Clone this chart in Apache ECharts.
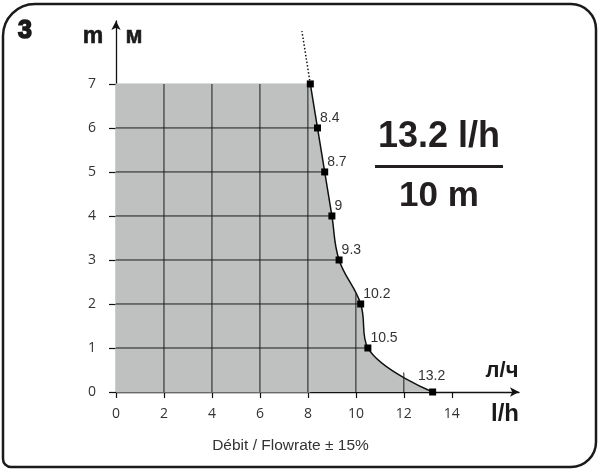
<!DOCTYPE html>
<html>
<head>
<meta charset="utf-8">
<script src="https://cdn.jsdelivr.net/npm/echarts@6/dist/echarts.min.js"></script>
<style>html,body{margin:0;padding:0;background:#fff;}#c{width:598px;height:469px;}</style>
</head>
<body>
<div id="c"></div>
<script>
// Data
const heads = [0, 1, 2, 3, 4, 5, 6, 7];                 // m
const flows = [13.2, 10.5, 10.2, 9.3, 9, 8.7, 8.4, 8.1]; // l/h
const extension = [[8.1, 7], [7.75, 8.2]];               // dotted continuation
const xTicks = [0, 2, 4, 6, 8, 10, 12, 14];
const yTicks = [0, 1, 2, 3, 4, 5, 6, 7];
const gridX = [2, 4, 6, 8, 10, 12];
const gridY = [1, 2, 3, 4, 5, 6];

const GRAY = '#bfc1c1';
const INK = '#111';
const curve = flows.map((f, i) => [f, heads[i]]);
const topIdx = flows.length - 1;

const chart = echarts.init(document.getElementById('c'), null, {renderer: 'canvas'});

const labelFor = (i) => {
  if (i === topIdx) return {show: false};
  if (i === 0) return {show: true, position: 'top', offset: [-1, -3], distance: 2};
  return {show: true, position: 'right', offset: [-1, -10], distance: 0};
};

const option = {
  animation: false,
  grid: {left: 116, top: 21, right: 79, bottom: 77, containLabel: false},
  xAxis: {
    type: 'value', min: 0, max: 16.8, interval: 2,
    axisLine: {show: true, lineStyle: {color: INK, width: 1.3}, symbol: ['none', 'arrow'], symbolSize: [7, 9]},
    axisTick: {show: true, length: 6, customValues: xTicks, lineStyle: {color: INK, width: 1.2}},
    axisLabel: {customValues: xTicks, margin: 15, fontSize: 14, color: '#333', fontFamily: 'Open Sans'},
    splitLine: {show: false}
  },
  yAxis: {
    type: 'value', min: 0, max: 8.43, interval: 1,
    axisLine: {show: true, lineStyle: {color: INK, width: 1.3}, symbol: ['none', 'arrow'], symbolSize: [7, 9]},
    axisTick: {show: true, length: 7, customValues: yTicks, lineStyle: {color: INK, width: 1.2}},
    axisLabel: {customValues: yTicks, margin: 20, fontSize: 14, color: '#333', fontFamily: 'Open Sans'},
    splitLine: {show: false}
  },
  series: [
    {
      name: 'fill', type: 'line', data: curve, smooth: 0.4, symbol: 'none', z: 1,
      lineStyle: {width: 0, opacity: 0},
      areaStyle: {color: GRAY, opacity: 1},
      markArea: {
        silent: true,
        itemStyle: {color: GRAY, borderColor: GRAY, borderWidth: 1},
        data: [[{coord: [0, 0]}, {coord: [flows[topIdx], heads[topIdx]]}]]
      }
    },
    {
      name: 'grid', type: 'custom', z: 2, silent: true, clip: false,
      data: [0],
      renderItem: function (params, api) {
        const poly = [api.coord([0, 0]), api.coord([0, heads[topIdx]])];
        for (let i = topIdx; i >= 0; i--) poly.push(api.coord([flows[i], heads[i]]));
        const children = [];
        gridX.forEach(v => {
          const a = api.coord([v, 0]), b = api.coord([v, heads[topIdx]]);
          children.push({type: 'line', shape: {x1: a[0], y1: a[1], x2: b[0], y2: b[1]}, style: {stroke: '#1a1a1a', lineWidth: 1}});
        });
        gridY.forEach(v => {
          const a = api.coord([0, v]), b = api.coord([14, v]);
          children.push({type: 'line', shape: {x1: a[0], y1: a[1], x2: b[0], y2: b[1]}, style: {stroke: '#1a1a1a', lineWidth: 1}});
        });
        return {type: 'group', children: children, clipPath: {type: 'polygon', shape: {points: poly}}};
      }
    },
    {
      name: 'extension', type: 'line', data: extension, symbol: 'none', z: 3,
      lineStyle: {color: INK, width: 1.5, type: [1.5, 2]}
    },
    {
      name: 'curve', type: 'line', smooth: 0.4, z: 4,
      data: curve.map((p, i) => ({value: p, label: labelFor(i)})),
      symbol: 'rect', symbolSize: 7,
      itemStyle: {color: '#000'},
      lineStyle: {color: INK, width: 1.5},
      label: {formatter: p => String(p.value[0]), fontSize: 14, color: '#333', fontFamily: 'Liberation Sans'}
    }
  ],
  graphic: [
    {type: 'rect', shape: {x: 3, y: 4, width: 593, height: 463, r: [32, 25, 25, 8]}, style: {fill: 'none', stroke: '#1a1a1a', lineWidth: 2.5}, z: 0},
    {type: 'text', x: 25, y: 31, style: {text: '3', font: 'bold 25px "Liberation Sans"', fill: '#1a1a1a', stroke: '#1a1a1a', lineWidth: 1.6, align: 'center', verticalAlign: 'middle'}},
    {type: 'text', x: 93, y: 37, style: {text: 'm', font: 'bold 23px "Liberation Sans"', fill: '#1a1a1a', stroke: '#1a1a1a', lineWidth: 0.6, align: 'center', verticalAlign: 'middle'}},
    {type: 'text', x: 134, y: 37, style: {text: 'м', font: 'bold 23px "Liberation Sans"', fill: '#1a1a1a', stroke: '#1a1a1a', lineWidth: 0.6, align: 'center', verticalAlign: 'middle'}},
    {type: 'text', x: 502, y: 371, style: {text: 'л/ч', font: 'bold 22px "Liberation Sans"', fill: '#1a1a1a', align: 'center', verticalAlign: 'middle'}},
    {type: 'text', x: 505, y: 414, style: {text: 'l/h', font: 'bold 24px "Liberation Sans"', fill: '#1a1a1a', align: 'center', verticalAlign: 'middle'}},
    {type: 'text', x: 439, y: 137, style: {text: '13.2 l/h', font: 'bold 36px "Liberation Sans"', fill: '#231f20', align: 'center', verticalAlign: 'middle'}},
    {type: 'line', shape: {x1: 375, y1: 166.5, x2: 503, y2: 166.5}, style: {stroke: '#231f20', lineWidth: 3}},
    {type: 'text', x: 439, y: 196, style: {text: '10 m', font: 'bold 35px "Liberation Sans"', fill: '#231f20', align: 'center', verticalAlign: 'middle'}},
    {type: 'text', x: 290.5, y: 446, style: {text: 'Débit / Flowrate ± 15%', font: '15.5px "Liberation Sans"', fill: '#333', align: 'center', verticalAlign: 'middle'}}
  ]
};
chart.setOption(option);
</script>
</body>
</html>
